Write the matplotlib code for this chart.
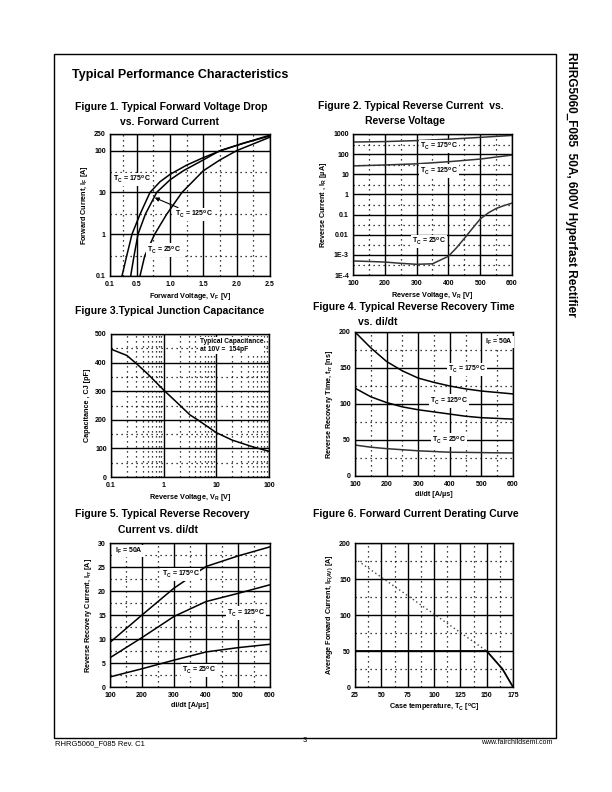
import matplotlib
matplotlib.use("Agg")
import matplotlib.pyplot as plt
from matplotlib.ticker import FixedLocator, NullFormatter, LogLocator
from matplotlib.patches import Rectangle

plt.rcParams['font.family'] = ['Liberation Sans', 'DejaVu Sans']
plt.rcParams['mathtext.fontset'] = 'custom'
plt.rcParams['mathtext.rm'] = 'Liberation Sans:bold'
plt.rcParams['mathtext.it'] = 'Liberation Sans:bold'
plt.rcParams['mathtext.bf'] = 'Liberation Sans:bold'

W, H = 612, 792

# ---------------- data ----------------
# Fig 1: forward voltage (V) vs forward current (A)
f1_v175 = [0.28, 0.35, 0.43, 0.55, 0.70, 0.85, 1.00, 1.25, 1.50, 1.76, 2.10, 2.50]
f1_i175 = [0.1, 0.3, 1, 3, 10, 18, 27, 45, 68, 100, 150, 235]
f1_v125 = [0.41, 0.46, 0.52, 0.63, 0.80, 1.00, 1.20, 1.50, 1.75, 2.10, 2.50]
f1_i125 = [0.1, 0.3, 1, 3, 10, 20, 33, 60, 100, 150, 225]
f1_v25 = [0.55, 0.62, 0.77, 0.95, 1.18, 1.50, 1.75, 2.00, 2.25, 2.50]
f1_i25 = [0.1, 0.3, 1, 3, 10, 33, 60, 100, 145, 210]
f1_xticks = [0.1, 0.5, 1.0, 1.5, 2.0, 2.5]
f1_xlabels = ["0.1", "0.5", "1.0", "1.5", "2.0", "2.5"]
f1_yticks = [0.1, 1, 10, 100, 250]
f1_ylabels = ["0.1", "1", "10", "100", "250"]

# Fig 2: reverse voltage (V) vs reverse current (uA)
f2_v = [100, 200, 300, 400, 500, 600]
f2_i175 = [400, 420, 470, 550, 680, 850]
f2_i125 = [26, 29, 33, 42, 57, 90]
f2_v25 = [100, 150, 200, 250, 300, 350, 400, 425, 450, 475, 500, 525, 550, 575, 600]
f2_i25 = [5e-4, 4.7e-4, 4.4e-4, 3.8e-4, 3.4e-4, 3.6e-4, 8.5e-4, 2.2e-3, 6.5e-3,
          0.02, 0.06, 0.12, 0.2, 0.28, 0.37]
f2_yticks = [1e-4, 1e-3, 0.01, 0.1, 1, 10, 100, 1000]
f2_ylabels = ["1E-4", "1E-3", "0.01", "0.1", "1", "10", "100", "1000"]

# Fig 3: reverse voltage (V) vs capacitance (pF)
f3_v = [0.1, 0.2, 0.31, 0.5, 1, 2, 3.16, 4.5, 10, 20, 50, 100]
f3_c = [447, 425, 395, 360, 304, 252, 217, 199, 155, 129, 105, 90]

# Fig 4: di/dt vs trr (ns)
f4_didt = [100, 150, 200, 250, 300, 350, 400, 450, 500, 550, 600]
f4_t175 = [200, 178, 159, 146, 136, 130, 125, 121, 118, 116, 114]
f4_t125 = [122, 110, 102, 96, 92, 89, 86, 83, 81, 80, 79]
f4_t25 = [43, 40, 38, 36.5, 35, 34, 33, 32.8, 32.5, 32.2, 32]

# Fig 5: di/dt vs Irr (A)
f5_didt = [100, 200, 300, 400, 500, 600]
f5_i175 = [9.3, 15.0, 20.6, 25.1, 27.3, 29.2]
f5_i125 = [6.1, 10.3, 14.7, 17.8, 19.5, 21.3]
f5_i25 = [2.1, 3.8, 5.6, 7.3, 8.2, 8.9]

# Fig 6: case temperature vs average forward current
f6_t_solid = [25, 150, 165, 175]
f6_i_solid = [50, 50, 25, 0]
f6_t_dot = [28, 150]
f6_i_dot = [175, 50]


def fx(x):
    return x / W


def fy(y):
    return 1 - y / H


fig = plt.figure(figsize=(W / 100, H / 100), dpi=100)


def add_ax(l, t, r, b):
    return fig.add_axes([fx(l), fy(b), (r - l) / W, (b - t) / H])


def ftext(x, y, s, **kw):
    fig.text(fx(x), fy(y), s, **kw)


MINOR = dict(which='minor', color='black', linestyle=(0, (1, 3)), linewidth=0.9)
MAJOR = dict(which='major', color='black', linestyle='-', linewidth=1.0)


def style(ax, xlabel, ylabel):
    for sp in ax.spines.values():
        sp.set_linewidth(1.0)
    ax.tick_params(which='both', length=0, labelsize=5)
    ax.tick_params(axis='x', pad=3.5)
    ax.tick_params(axis='y', pad=3)
    for lab in ax.get_xticklabels() + ax.get_yticklabels():
        lab.set_fontweight('bold')
    ax.grid(**MAJOR)
    ax.grid(**MINOR)
    ax.set_axisbelow(True)
    ax.set_xlabel(xlabel, fontsize=5.2, fontweight='bold', labelpad=2)
    ax.set_ylabel(ylabel, fontsize=5.2, fontweight='bold', labelpad=3)


LW = 1.1
LBL = dict(fontsize=5, fontweight='bold')

# ---------- Page decorations ----------
fig.patches.append(Rectangle((fx(54), fy(738)), (556 - 54) / W, (738 - 54) / H,
                             transform=fig.transFigure, fill=False, lw=1.0,
                             edgecolor='black'))
ftext(72, 75, "Typical Performance Characteristics", fontsize=9, fontweight='bold',
      va='center', ha='left')
ftext(571, 52, "RHRG5060_F085  50A, 600V Hyperfast Rectifier", fontsize=8.5,
      fontweight='bold', rotation=270, va='top', ha='center')
ftext(55, 744, "RHRG5060_F085 Rev. C1", fontsize=5.5, va='center', ha='left')
ftext(305, 740, "3", fontsize=5.5, va='center', ha='center')
ftext(552, 743, "www.fairchildsemi.com", fontsize=5, va='center', ha='right')

TT = dict(fontsize=7.5, fontweight='bold', va='center', ha='left')
BOX = dict(boxstyle='square,pad=0.15', facecolor='white', edgecolor='none')

# ---------- Figure 1 ----------
ftext(75, 107, "Figure 1. Typical Forward Voltage Drop", **TT)
ftext(120, 122, "vs. Forward Current", **TT)
ax1 = add_ax(110, 134, 270, 276)
ax1.set_yscale('log')
ax1.set_xlim(0.1, 2.5)
ax1.set_ylim(0.1, 250)
ax1.plot(f1_v175, f1_i175, color='black', lw=LW)
ax1.plot(f1_v125, f1_i125, color='black', lw=LW)
ax1.plot(f1_v25, f1_i25, color='black', lw=LW)
ax1.xaxis.set_major_locator(FixedLocator(f1_xticks))
ax1.set_xticklabels(f1_xlabels)
ax1.xaxis.set_minor_locator(FixedLocator([0.3, 0.75, 1.25, 1.75, 2.25]))
ax1.yaxis.set_major_locator(FixedLocator(f1_yticks))
ax1.set_yticklabels(f1_ylabels)
ax1.yaxis.set_minor_locator(LogLocator(base=10, subs=(3.0,)))
ax1.yaxis.set_minor_formatter(NullFormatter())
style(ax1, "Forward Voltage, V$_F$ [V]", "Forward Current, I$_F$ [A]")
ax1.text(0.15, 20, "T$_C$ = 175$^o$C", va='center', bbox=BOX, **LBL)
ax1.annotate("T$_C$ = 125$^o$C", xy=(0.77, 7.5), xytext=(1.07, 3.0),
             arrowprops=dict(arrowstyle='-|>', color='black', lw=0.8,
                             mutation_scale=6, shrinkA=0, shrinkB=0),
             va='center', bbox=BOX, **LBL)
ax1.text(0.66, 0.42, "T$_C$ = 25$^o$C", va='center', bbox=BOX, **LBL)

# ---------- Figure 2 ----------
ftext(318, 106, "Figure 2. Typical Reverse Current  vs.", **TT)
ftext(365, 121, "Reverse Voltage", **TT)
ax2 = add_ax(353, 134, 512, 275)
ax2.set_yscale('log')
ax2.set_xlim(100, 600)
ax2.set_ylim(1e-4, 1000)
ax2.plot(f2_v, f2_i175, color='#333333', lw=LW)
ax2.plot(f2_v, f2_i125, color='#333333', lw=LW)
ax2.plot(f2_v25, f2_i25, color='#333333', lw=LW)
ax2.xaxis.set_major_locator(FixedLocator([100, 200, 300, 400, 500, 600]))
ax2.xaxis.set_minor_locator(FixedLocator([150, 250, 350, 450, 550]))
ax2.yaxis.set_major_locator(FixedLocator(f2_yticks))
ax2.set_yticklabels(f2_ylabels)
ax2.yaxis.set_minor_locator(LogLocator(base=10, subs=(3.0,)))
ax2.yaxis.set_minor_formatter(NullFormatter())
style(ax2, "Reverse Voltage, V$_R$ [V]", "Reverse Current , I$_R$ [µA]")
ax2.text(311, 230, "T$_C$ = 175$^o$C", va='center', bbox=BOX, **LBL)
ax2.text(311, 14.6, "T$_C$ = 125$^o$C", va='center', bbox=BOX, **LBL)
ax2.text(285, 0.0045, "T$_C$ = 25$^o$C", va='center', bbox=BOX, **LBL)

# ---------- Figure 3 ----------
ftext(75, 311, "Figure 3.Typical Junction Capacitance", **TT)
ax3 = add_ax(111, 334, 269, 477)
ax3.set_xscale('log')
ax3.set_xlim(0.1, 100)
ax3.set_ylim(0, 500)
ax3.plot(f3_v, f3_c, color='black', lw=LW)
ax3.xaxis.set_major_locator(FixedLocator([0.1, 1, 10, 100]))
ax3.set_xticklabels(["0.1", "1", "10", "100"])
ax3.xaxis.set_minor_locator(LogLocator(base=10, subs=(2, 3, 4, 5, 6, 7, 8, 9)))
ax3.xaxis.set_minor_formatter(NullFormatter())
ax3.yaxis.set_major_locator(FixedLocator([0, 100, 200, 300, 400, 500]))
ax3.yaxis.set_minor_locator(FixedLocator([50, 150, 250, 350, 450]))
style(ax3, "Reverse Voltage, V$_R$ [V]", "Capacitance , CJ [pF]")
ax3.text(4.8, 485, "Typical Capacitance\nat 10V =  154pF", va='top', ha='left',
         bbox=BOX, fontsize=4.8, fontweight='bold', linespacing=1.2)

# ---------- Figure 4 ----------
ftext(313, 307, "Figure 4. Typical Reverse Recovery Time", **TT)
ftext(358, 322, "vs. di/dt", **TT)
ax4 = add_ax(355, 332, 513, 476)
ax4.set_xlim(100, 600)
ax4.set_ylim(0, 200)
ax4.plot(f4_didt, f4_t175, color='black', lw=LW)
ax4.plot(f4_didt, f4_t125, color='black', lw=LW)
ax4.plot(f4_didt, f4_t25, color='#333333', lw=LW)
ax4.xaxis.set_major_locator(FixedLocator([100, 200, 300, 400, 500, 600]))
ax4.xaxis.set_minor_locator(FixedLocator([150, 250, 350, 450, 550]))
ax4.yaxis.set_major_locator(FixedLocator([0, 50, 100, 150, 200]))
ax4.yaxis.set_minor_locator(FixedLocator([25, 75, 125, 175]))
style(ax4, "di/dt [A/µs]", "Reverse Recovery Time, t$_{rr}$ [ns]")
ax4.text(512, 186, "I$_F$ = 50A", va='center', bbox=BOX, **LBL)
ax4.text(395, 148, "T$_C$ = 175$^o$C", va='center', bbox=BOX, **LBL)
ax4.text(337, 104, "T$_C$ = 125$^o$C", va='center', bbox=BOX, **LBL)
ax4.text(343, 50, "T$_C$ = 25$^o$C", va='center', bbox=BOX, **LBL)

# ---------- Figure 5 ----------
ftext(75, 514, "Figure 5. Typical Reverse Recovery", **TT)
ftext(118, 530, "Current vs. di/dt", **TT)
ax5 = add_ax(110, 543, 270, 687)
ax5.set_xlim(100, 600)
ax5.set_ylim(0, 30)
ax5.plot(f5_didt, f5_i175, color='black', lw=LW)
ax5.plot(f5_didt, f5_i125, color='black', lw=LW)
ax5.plot(f5_didt, f5_i25, color='black', lw=LW)
ax5.xaxis.set_major_locator(FixedLocator([100, 200, 300, 400, 500, 600]))
ax5.xaxis.set_minor_locator(FixedLocator([150, 250, 350, 450, 550]))
ax5.yaxis.set_major_locator(FixedLocator([0, 5, 10, 15, 20, 25, 30]))
ax5.yaxis.set_minor_locator(FixedLocator([2.5, 7.5, 12.5, 17.5, 22.5, 27.5]))
style(ax5, "di/dt [A/µs]", "Reverse Recovery Current, I$_{rr}$ [A]")
ax5.text(116, 28.3, "I$_F$ = 50A", va='center', bbox=BOX, **LBL)
ax5.text(261, 23.5, "T$_C$ = 175$^o$C", va='center', bbox=BOX, **LBL)
ax5.text(465, 15.4, "T$_C$ = 125$^o$C", va='center', bbox=BOX, **LBL)
ax5.text(325, 3.4, "T$_C$ = 25$^o$C", va='center', bbox=BOX, **LBL)

# ---------- Figure 6 ----------
ftext(313, 514, "Figure 6. Forward Current Derating Curve", **TT)
ax6 = add_ax(355, 543, 513, 687)
ax6.set_xlim(25, 175)
ax6.set_ylim(0, 200)
ax6.plot(f6_t_solid, f6_i_solid, color='black', lw=1.3)
ax6.plot(f6_t_dot, f6_i_dot, color='#444444', lw=1.0, linestyle=(0, (1, 2)))
ax6.xaxis.set_major_locator(FixedLocator([25, 50, 75, 100, 125, 150, 175]))
ax6.xaxis.set_minor_locator(FixedLocator([37.5, 62.5, 87.5, 112.5, 137.5, 162.5]))
ax6.yaxis.set_major_locator(FixedLocator([0, 50, 100, 150, 200]))
ax6.yaxis.set_minor_locator(FixedLocator([25, 75, 125, 175]))
style(ax6, "Case temperature, T$_C$ [$^o$C]", "Average Forward Current, I$_{F(AV)}$ [A]")

fig.savefig("out.png", dpi=100)
